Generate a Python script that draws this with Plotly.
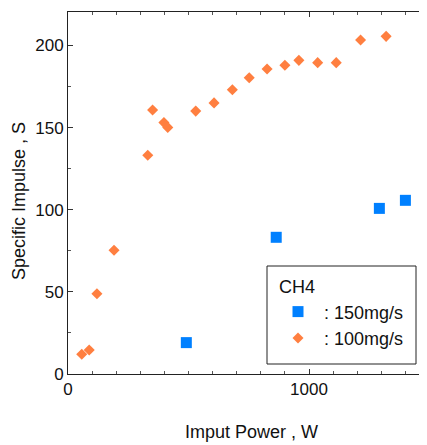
import plotly.graph_objects as go

# Data
power_150 = [491, 864, 1292, 1400]
isp_150 = [19.1, 83.2, 100.8, 105.7]

power_100 = [57, 88, 120, 191, 331, 351, 398, 414, 530, 606, 682, 752, 826, 900, 958, 1036, 1113, 1214, 1320]
isp_100 = [12.0, 14.6, 48.9, 75.3, 133.1, 160.7, 153.0, 150.1, 160.0, 165.0, 173.0, 180.3, 185.6, 187.9, 190.9, 189.5, 189.5, 203.3, 205.5]

x_ticks = [0, 1000]
y_ticks = [0, 50, 100, 150, 200]

FONT = "Liberation Sans, Arial, sans-serif"

# page body has an 8px default margin
OFF = 8
W, H = 427 - OFF, 445 - OFF
PL, PT, PB, PR = 68, 12, 374, 427          # plot area in window pixels
L, T = PL - OFF, PT - OFF
B = H - (PB - OFF)
R = W - (PR - OFF)
plot_w = W - L - R
plot_h = H - T - B
x_max = plot_w / 0.241                     # 0.241 px per W
y_max = plot_h / 1.643                     # 1.643 px per s


def px_x(v):
    return (v - PL) / plot_w


def px_y(v):
    return (PB - v) / plot_h


fig = go.Figure()
fig.add_trace(go.Scatter(
    x=power_150, y=isp_150, mode="markers", name=": 150mg/s ",
    marker=dict(symbol="square", size=11, color="#0080FF", line=dict(width=0)),
    legendgroup="a",
))
fig.add_trace(go.Scatter(
    x=power_100, y=isp_100, mode="markers", name=": 100mg/s ",
    marker=dict(symbol="diamond", size=8.5, color="#FF7F40", line=dict(width=0)),
    legendgroup="b",
))

axis_common = dict(
    showgrid=False, zeroline=False, showline=True, linecolor="#222222", linewidth=1,
    ticks="inside", ticklen=5, tickwidth=1, tickcolor="#333333", mirror="ticks",
    tickfont=dict(family=FONT, size=17, color="#111111"),
)

fig.update_layout(
    width=W, height=H,
    margin=dict(l=L, r=R, t=T, b=B, pad=0),
    paper_bgcolor="white", plot_bgcolor="white",
    font=dict(family=FONT, size=18, color="#111111"),
    xaxis=dict(range=[0, x_max], tickvals=x_ticks,
               minor=dict(dtick=100, tick0=0, ticks="inside", ticklen=3, tickcolor="#555555", tickwidth=1, showgrid=False),
               **axis_common),
    yaxis=dict(range=[0, y_max], tickvals=y_ticks,
               minor=dict(dtick=25, tick0=0, ticks="inside", ticklen=3, tickcolor="#555555", tickwidth=1, showgrid=False),
               **axis_common),
    legend=dict(
        x=px_x(267), y=px_y(270),
        xanchor="left", yanchor="top",
        borderwidth=0, bgcolor="rgba(0,0,0,0)",
        title=dict(text="  CH4", font=dict(family=FONT, size=18)),
        font=dict(family=FONT, size=18),
        itemwidth=42, indentation=5,
        tracegroupgap=0,
    ),
    showlegend=True,
    shapes=[dict(type="rect", xref="paper", yref="paper",
                 x0=px_x(267), x1=px_x(416), y0=px_y(364), y1=px_y(266),
                 line=dict(color="#222222", width=1), fillcolor="rgba(0,0,0,0)", layer="above")],
)

fig.add_annotation(text="Imput Power , W", xref="paper", yref="paper",
                   x=px_x(251.7), y=0, xanchor="center", yanchor="middle",
                   yshift=-(432 - PB), showarrow=False, font=dict(family=FONT, size=18))
fig.add_annotation(text="Specific Impulse , S", xref="paper", yref="paper",
                   x=0, y=px_y(201), xanchor="center", yanchor="middle",
                   xshift=-(PL - 19), textangle=-90, showarrow=False, font=dict(family=FONT, size=18))

fig.write_html("out.html")
